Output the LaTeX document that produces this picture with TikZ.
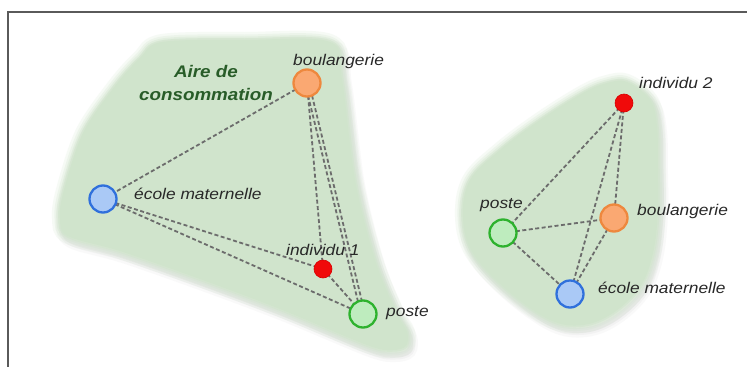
\documentclass[tikz,border=0pt]{standalone}
\usepackage{fontspec}
\newfontfamily\lab{Liberation Sans}[FakeStretch=1.12]
\pgfdeclarelayer{bg}
\pgfdeclarelayer{edges}
\pgfsetlayers{bg,edges,main}
\definecolor{blobc}{RGB}{208,228,204}
\definecolor{shadc}{RGB}{150,150,150}
\definecolor{framec}{RGB}{90,90,90}
\definecolor{edgec}{RGB}{108,108,108}
\definecolor{orfill}{RGB}{250,168,114}
\definecolor{ordraw}{RGB}{238,136,62}
\definecolor{blfill}{RGB}{170,201,246}
\definecolor{bldraw}{RGB}{48,112,220}
\definecolor{grfill}{RGB}{190,236,190}
\definecolor{grdraw}{RGB}{46,178,46}
\definecolor{redc}{RGB}{240,10,10}
\definecolor{titlec}{RGB}{40,92,40}
\definecolor{labc}{RGB}{40,40,40}
\tikzset{
  place/.style={circle, minimum size=27pt, inner sep=0pt, line width=2.3pt},
  boul/.style={place, fill=orfill, draw=ordraw},
  ecole/.style={place, fill=blfill, draw=bldraw},
  poste/.style={place, fill=grfill, draw=grdraw},
  indiv/.style={circle, minimum size=18pt, inner sep=0pt, fill=redc, draw=red!85!black, line width=0.6pt},
  lab/.style={font=\lab\itshape\fontsize{15.5}{18}\selectfont, text=labc, inner sep=0pt, anchor=base west},
  ttl/.style={font=\lab\bfseries\itshape\fontsize{16.8}{20}\selectfont, text=titlec, inner sep=0pt, anchor=base},
  dline/.style={draw=edgec, line width=1.8pt, dash pattern=on 4pt off 2.5pt},
}
\def\blobA{plot[smooth cycle, tension=0.55] coordinates {(162,42) (245,40) (330,42) (342,80) (355,180) (375,260) (396,312) (407,332) (406,346) (392,350) (367,345) (280,309) (200,279) (120,251) (68,236) (60,218) (64,190) (83,133) (115,86) (140,58)}}
\def\blobB{plot[smooth cycle, tension=0.6] coordinates {(607,83) (627,82) (650,100) (657,127) (658,170) (658,210) (653,253) (640,287) (613,313) (583,325) (550,320) (507,290) (473,253) (463,217) (470,180) (500,150) (540,120) (583,93)}}
\begin{document}
\begin{tikzpicture}[x=1pt,y=-1pt]
\useasboundingbox (0,0) rectangle (747,367);

% nodes
\node[boul]  (b1) at (307,83) {};
\node[ecole] (e1) at (103,199) {};
\node[indiv] (i1) at (323,269) {};
\node[poste] (p1) at (363,314) {};

\node[indiv] (i2) at (624,103) {};
\node[poste] (p2) at (503,233) {};
\node[boul]  (b2) at (614,218) {};
\node[ecole] (e2) at (570,294) {};

% labels
\node[ttl] (t1) at (206,77) {Aire de};
\node[ttl] (t2) at (206,100) {consommation};
\node[lab] (lb1) at (293,65) {boulangerie};
\node[lab] (le1) at (134,199) {école maternelle};
\node[lab] (li1) at (286,255) {individu 1};
\node[lab] (lp1) at (386,316) {poste};
\node[lab] (li2) at (639,88) {individu 2};
\node[lab] (lb2) at (637,215) {boulangerie};
\node[lab] (le2) at (598,293) {école maternelle};
\node[lab] (lp2) at (480,208) {poste};

% blobs and frame
\begin{pgfonlayer}{bg}
  \fill[white] (0,0) rectangle (747,367);
  \draw[framec, line width=1.5pt] (747,12) -- (8,12) -- (8,367);
  \foreach \w/\o in {14/0.05,9/0.07,5/0.09}{
    \draw[shadc, line width=\w pt, opacity=\o, shift={(3,5)}] \blobA;
    \draw[shadc, line width=\w pt, opacity=\o, shift={(3,5)}] \blobB;
  }
  \foreach \w/\o in {16/0.18,11/0.25,7/0.35,3.5/0.6}{
    \draw[blobc, line width=\w pt, opacity=\o] \blobA;
    \draw[blobc, line width=\w pt, opacity=\o] \blobB;
  }
  \fill[blobc] \blobA;
  \fill[blobc] \blobB;
\end{pgfonlayer}

% connectors
\begin{pgfonlayer}{edges}
  \draw[dline] (b1.center) -- (e1.center);
  \draw[dline] (b1.center) -- (i1.center);
  \draw[dline] ([xshift=-2pt]b1.center) -- ([xshift=-2pt]p1.center);
  \draw[dline] ([xshift=2pt]b1.center) -- ([xshift=2pt]p1.center);
  \draw[dline] (e1.center) -- (i1.center);
  \draw[dline] (e1.center) -- (p1.center);
  \draw[dline] (i1.center) -- (p1.center);

  \draw[dline] (i2.center) -- (p2.center);
  \draw[dline] (i2.center) -- (b2.center);
  \draw[dline] (i2.center) -- (e2.center);
  \draw[dline] (p2.center) -- (b2.center);
  \draw[dline] (p2.center) -- (e2.center);
  \draw[dline] (b2.center) -- (e2.center);
\end{pgfonlayer}
\end{tikzpicture}
\end{document}
